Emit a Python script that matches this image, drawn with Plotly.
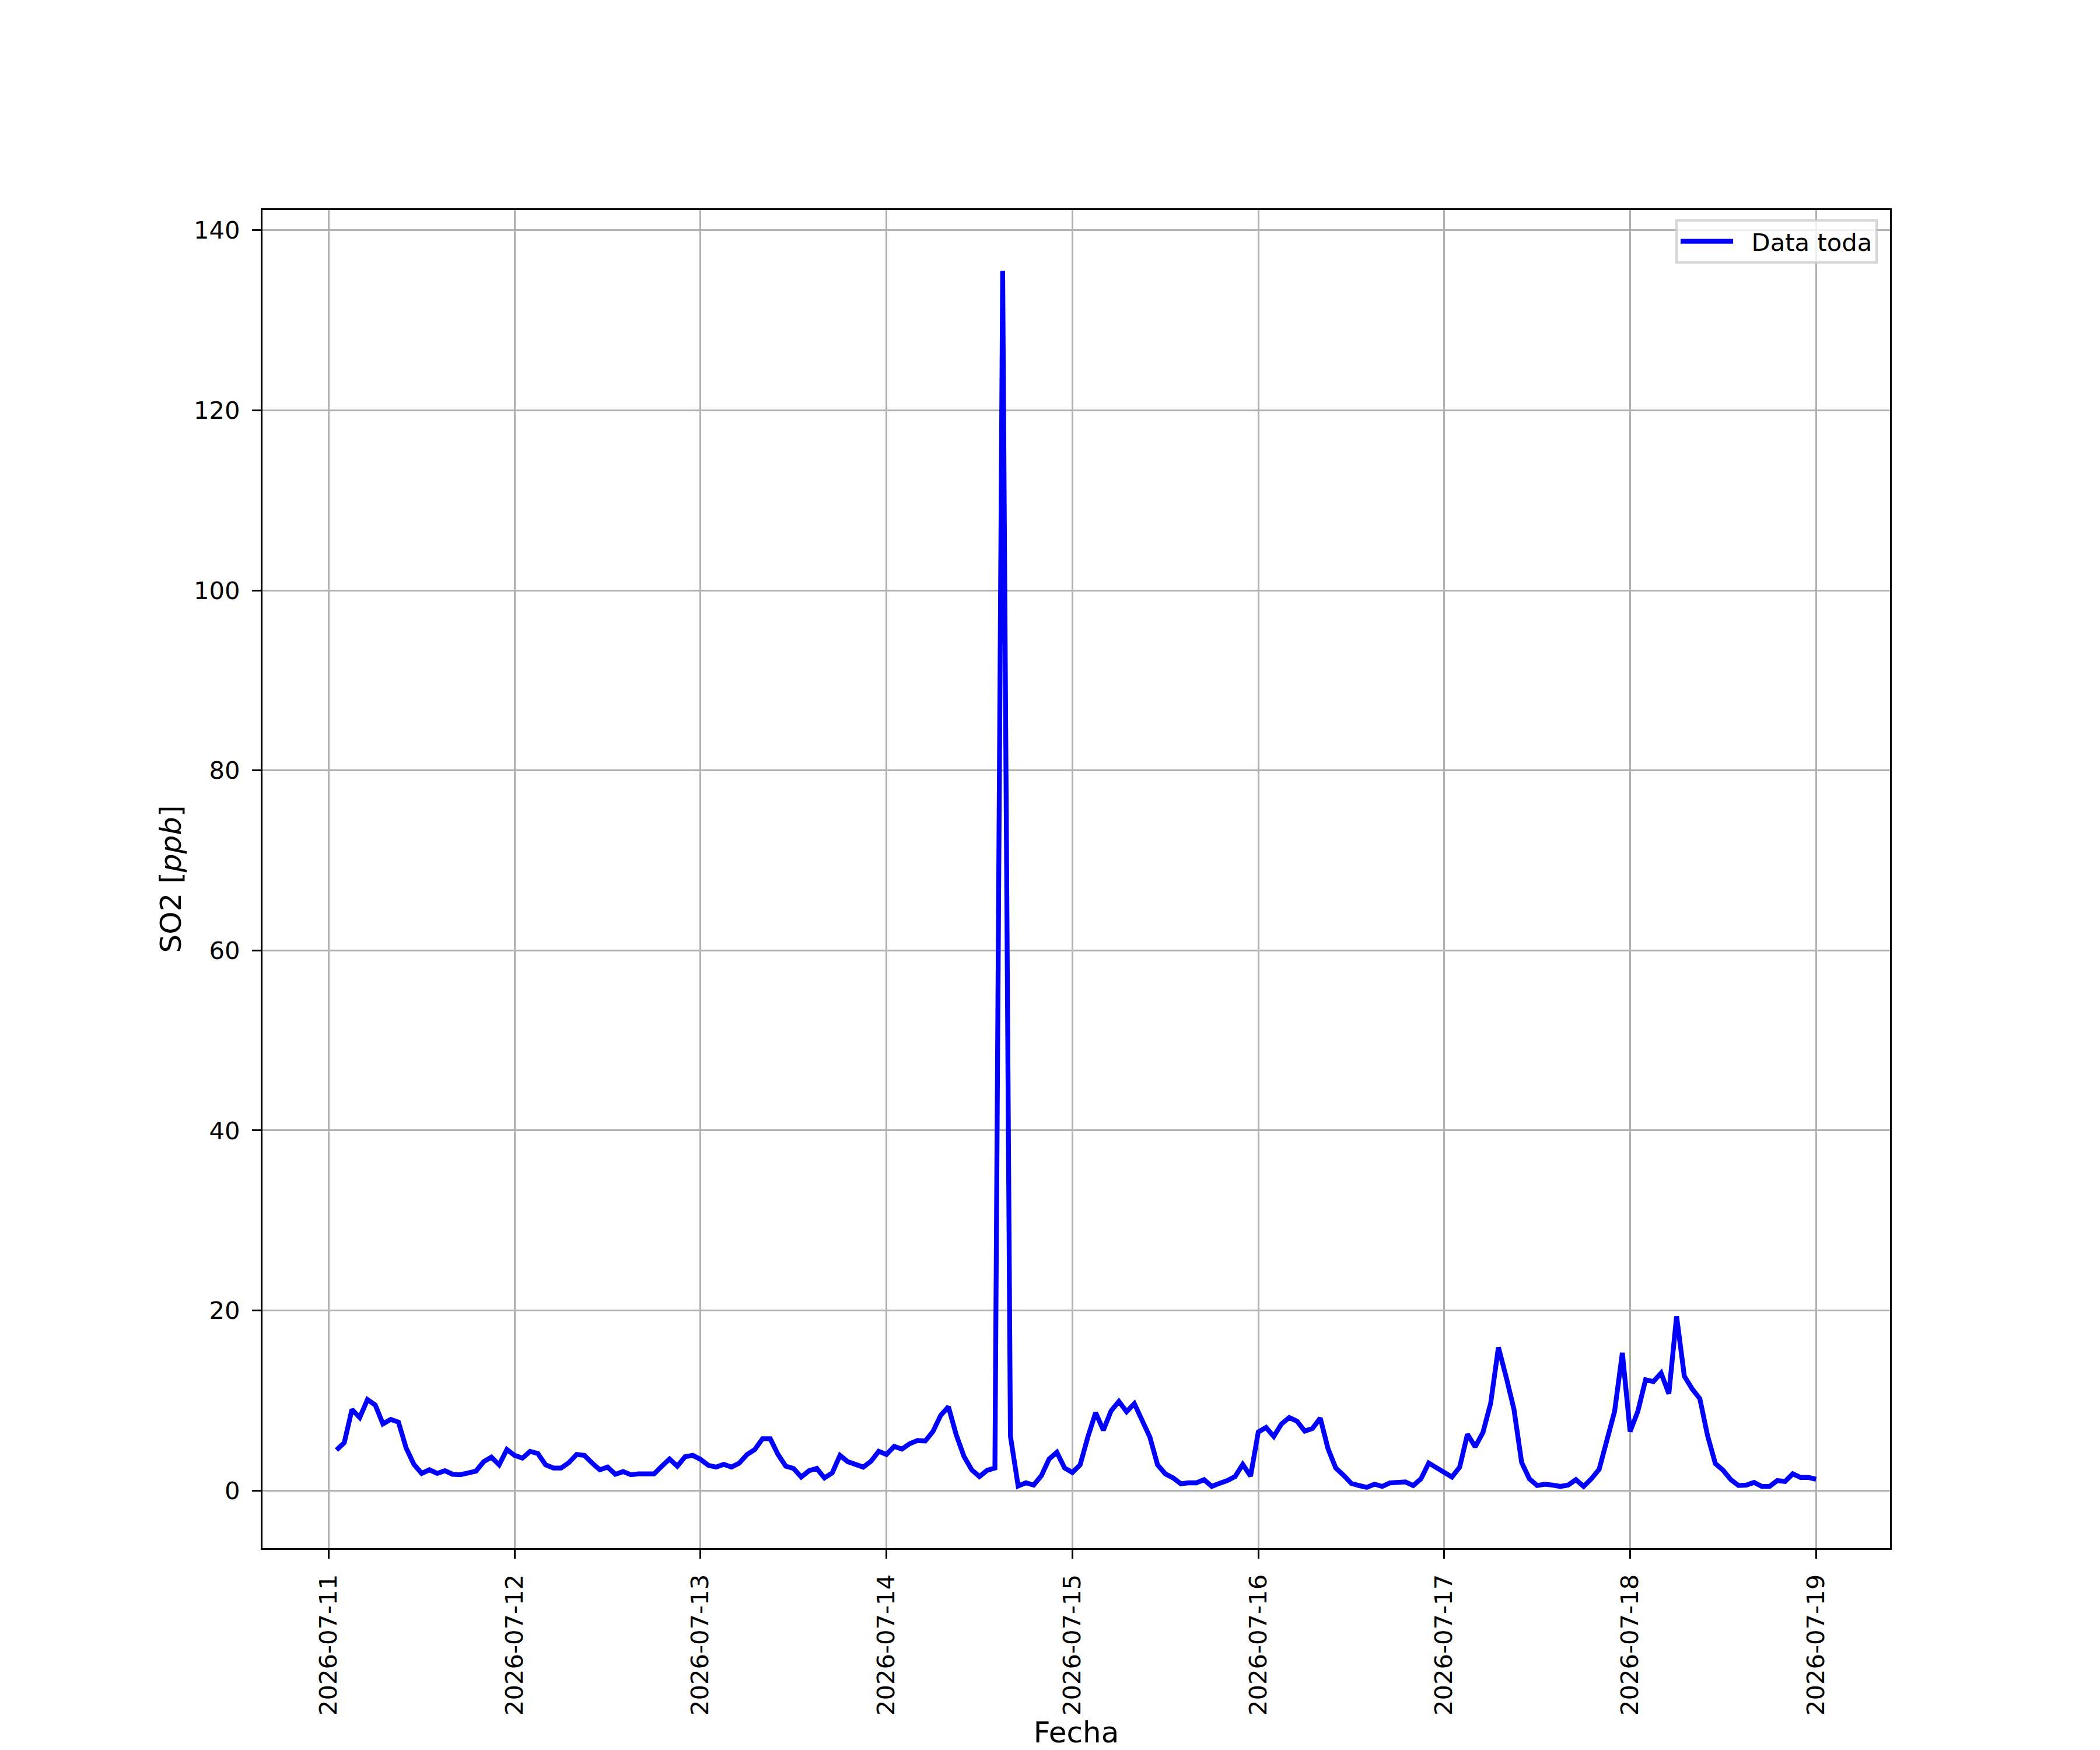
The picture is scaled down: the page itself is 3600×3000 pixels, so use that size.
import pandas as pd
import plotly.graph_objects as go

# SO2 hourly readings, 2026-07-11 01:00 .. 2026-07-19 00:00
start_time = "2026-07-11 01:00"
so2_day1 = [4.5, 5.3, 9.0, 8.1, 10.1, 9.5, 7.4, 7.9, 7.6, 4.7, 2.9, 1.9,
            2.3, 1.9, 2.2, 1.8, 1.75, 1.9, 2.15, 3.2, 3.7, 2.85, 4.55]
so2_day2 = [3.9, 3.6, 4.35, 4.1, 2.85, 2.5, 2.5, 3.1, 4.0, 3.9, 3.05, 2.3,
            2.6, 1.8, 2.1, 1.75, 1.85, 1.9, 1.85, 2.7, 3.5, 2.7, 3.75, 3.9]
so2_day3 = [3.45, 2.8, 2.6, 2.9, 2.6, 3.05, 4.0, 4.55, 5.75, 5.75, 4.0, 2.7,
            2.45, 1.5, 2.2, 2.45, 1.4, 1.95, 3.9, 3.2, 2.95, 2.6, 3.25, 4.35]
so2_day4 = [4.0, 4.9, 4.6, 5.2, 5.55, 5.5, 6.55, 8.35, 9.3, 6.2, 3.8, 2.3,
            1.55, 2.25, 2.5, 135.5, 6.05, 0.5, 0.85, 0.6, 1.65, 3.5, 4.25, 2.5]
so2_day5 = [2.0, 2.85, 5.95, 8.65, 6.7, 8.85, 9.9, 8.75, 9.65, 7.7, 5.95, 2.85,
            1.85, 1.4, 0.75, 0.85, 0.85, 1.2, 0.45, 0.8, 1.1, 1.55, 2.9, 1.6]
so2_day6 = [6.5, 7.0, 6.0, 7.4, 8.1, 7.7, 6.6, 6.9, 8.05, 4.65, 2.5, 1.7,
            0.8, 0.55, 0.35, 0.7, 0.45, 0.85, 0.95, 0.95, 0.55, 1.3, 3.05, 2.55]
so2_day7 = [2.05, 1.5, 2.6, 6.25, 4.85, 6.45, 9.7, 15.9, 12.6, 9.05, 3.1, 1.3,
            0.55, 0.7, 0.6, 0.45, 0.6, 1.2, 0.45, 1.3, 2.35, 5.5, 8.8, 15.3]
so2_day8 = [6.55, 8.8, 12.3, 12.1, 13.05, 10.75, 19.35, 12.7, 11.3, 10.2, 6.1, 3.0,
            2.25, 1.2, 0.55, 0.6, 0.9, 0.45, 0.45, 1.1, 1.0, 1.85, 1.45, 1.45]
so2_day9 = [1.25]

y_ticks = [0, 20, 40, 60, 80, 100, 120, 140]
x_ticks = ["2026-07-11", "2026-07-12", "2026-07-13", "2026-07-14", "2026-07-15",
           "2026-07-16", "2026-07-17", "2026-07-18", "2026-07-19"]

so2 = (so2_day1 + so2_day2 + so2_day3 + so2_day4 + so2_day5 +
       so2_day6 + so2_day7 + so2_day8 + so2_day9)
fechas = pd.date_range(start_time, periods=len(so2), freq="h")

# matplotlib style 5% margins
span_t = fechas[-1] - fechas[0]
x_range = [fechas[0] - 0.05 * span_t, fechas[-1] + 0.05 * span_t]
span_y = max(so2) - min(so2)
y_range = [min(so2) - 0.05 * span_y, max(so2) + 0.05 * span_y]

FONT = "DejaVu Sans"
TICK = 41.7
LW = 3.3

fig = go.Figure()
fig.add_trace(go.Scatter(x=fechas, y=so2, mode="lines", name="\u00a0\u00a0Data toda",
                         line=dict(color="#0000ff", width=8.3)))

fig.update_layout(
    width=3600, height=3000,
    margin=dict(l=450, r=360, t=360, b=330),
    paper_bgcolor="white", plot_bgcolor="white",
    font=dict(family=FONT, size=TICK, color="black"),
    showlegend=True,
    legend=dict(x=0.9925, y=0.993, xanchor="right", yanchor="top",
                bgcolor="rgba(255,255,255,0.8)", bordercolor="rgba(204,204,204,0.8)",
                borderwidth=4, font=dict(size=TICK), itemwidth=90),
)
fig.update_xaxes(
    range=x_range, tickvals=pd.to_datetime(x_ticks), ticktext=x_ticks,
    tickangle=-90, showgrid=True, gridcolor="#b0b0b0", gridwidth=LW,
    showline=True, linecolor="black", linewidth=LW, mirror=True,
    ticks="outside", ticklen=15, tickwidth=LW, tickcolor="black",
    ticklabelstandoff=10, zeroline=False,
    title=dict(text="Fecha", font=dict(size=50), standoff=12),
)
fig.update_yaxes(
    range=y_range, tickvals=y_ticks, showgrid=True, gridcolor="#b0b0b0", gridwidth=LW,
    showline=True, linecolor="black", linewidth=LW, mirror=True,
    ticks="outside", ticklen=15, tickwidth=LW, tickcolor="black",
    ticklabelstandoff=12, zeroline=False,
    title=dict(text="SO2 [<i>ppb</i>]", font=dict(size=50), standoff=6),
)

fig.write_html("out.html", config={"displayModeBar": False},
               post_script="document.body.style.margin='0';")
